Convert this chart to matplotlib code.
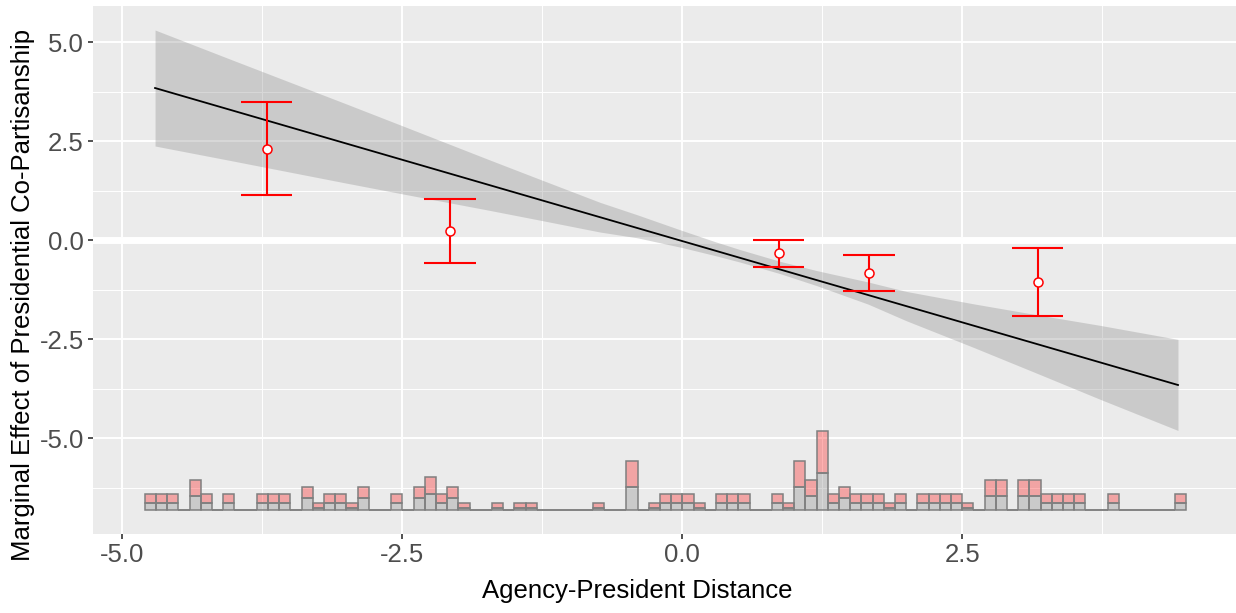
import matplotlib.pyplot as plt
import numpy as np

plt.rcParams['font.family'] = ['Liberation Sans', 'DejaVu Sans']

# fitted linear marginal effect and its confidence band
line_x = [-4.708, 4.426]
line_y = [3.846, -3.654]

band_x = [-4.708, -4.04, -3.0, -2.5, -1.73, -1.25, -0.735, -0.4, 0.0, 0.3,
          0.515, 0.87, 1.2, 1.66, 2.0, 2.6, 3.2, 3.72, 4.426]
band_hi = [5.311, 4.578, 3.444, 2.893, 2.041, 1.517, 0.959, 0.642, 0.246, -0.041,
           -0.234, -0.529, -0.765, -1.053, -1.291, -1.604, -1.897, -2.143, -2.502]
band_lo = [2.381, 2.018, 1.444, 1.173, 0.761, 0.497, 0.209, 0.062, -0.184, -0.391,
           -0.550, -0.839, -1.145, -1.613, -2.031, -2.704, -3.397, -4.003, -4.802]

# binned estimates
bin_x = [-3.711, -2.074, 0.863, 1.667, 3.173]
bin_est = [2.313, 0.235, -0.328, -0.833, -1.061]
bin_lo = [1.144, -0.573, -0.674, -1.288, -1.912]
bin_hi = [3.485, 1.05, 0.008, -0.371, -0.202]

# histogram of the moderator (bins of width 0.1 from -4.8 to 4.5)
hist_start = -4.8
hist_width = 0.1
count_control = [3, 3, 3, 0, 6, 3, 0, 3, 0, 0,
                 3, 3, 3, 0, 5, 1, 3, 3, 1, 5,
                 0, 0, 3, 0, 5, 7, 3, 5, 1, 0,
                 0, 1, 0, 1, 1, 0, 0, 0, 0, 0,
                 1, 0, 0, 10, 0, 1, 3, 3, 3, 1,
                 0, 3, 3, 3, 0, 0, 3, 1, 10, 6,
                 16, 3, 5, 3, 3, 3, 1, 3, 0, 3,
                 3, 3, 3, 1, 0, 6, 6, 0, 6, 6,
                 3, 3, 3, 3, 0, 0, 3, 0, 0, 0,
                 0, 0, 3]
count_treated = [4, 4, 4, 0, 7, 4, 0, 4, 0, 0,
                 4, 4, 4, 0, 5, 2, 4, 4, 2, 5,
                 0, 0, 4, 0, 5, 7, 4, 5, 2, 0,
                 0, 2, 0, 2, 2, 0, 0, 0, 0, 0,
                 2, 0, 0, 11, 0, 2, 4, 4, 4, 2,
                 0, 4, 4, 4, 0, 0, 4, 2, 11, 7,
                 18, 4, 5, 4, 4, 4, 2, 4, 0, 4,
                 4, 4, 4, 2, 0, 7, 7, 0, 7, 7,
                 4, 4, 4, 4, 0, 0, 4, 0, 0, 0,
                 0, 0, 4]
hist_base = -6.811
hist_scale = 0.0589

x_ticks = [-5.0, -2.5, 0.0, 2.5]
y_ticks = [-5.0, -2.5, 0.0, 2.5, 5.0]

fig = plt.figure(figsize=(12.36, 6.13), dpi=100)
ax = fig.add_axes([93 / 1236, 79 / 613, 1143 / 1236, 528 / 613])
ax.set_facecolor('#EBEBEB')
for s in ax.spines.values():
    s.set_visible(False)

ax.set_xlim(-5.262, 4.944)
ax.set_ylim(-7.417, 5.917)
ax.set_xticks(x_ticks)
ax.set_yticks(y_ticks)
ax.set_xticks([-3.75, -1.25, 1.25, 3.75], minor=True)
ax.set_yticks([-6.25, -3.75, -1.25, 1.25, 3.75], minor=True)
ax.set_xticklabels(['{:.1f}'.format(t) for t in x_ticks])
ax.set_yticklabels(['{:.1f}'.format(t) for t in y_ticks])
ax.grid(which='major', color='white', linewidth=1.4)
ax.grid(which='minor', color='white', linewidth=0.7)
ax.set_axisbelow(True)
ax.tick_params(which='major', length=3.5, width=1.2, color='#333333',
               labelsize=18.5, labelcolor='#4D4D4D', pad=3)
ax.tick_params(which='minor', length=0)

ax.axhline(0, color='white', linewidth=5, zorder=1)

ax.fill_between(band_x, band_lo, band_hi, color='#808080', alpha=0.3,
                linewidth=0, zorder=2)
ax.plot(line_x, line_y, color='black', linewidth=1.3, zorder=3)

# histogram
edges = hist_start + hist_width * np.arange(len(count_control))
g = np.array(count_control) * hist_scale
p = np.array(count_treated) * hist_scale
ax.bar(edges, g, width=hist_width, bottom=hist_base, align='edge',
       color='#808080', alpha=0.3, zorder=4, linewidth=0)
ax.bar(edges, p, width=hist_width, bottom=hist_base + g, align='edge',
       color='red', alpha=0.3, zorder=4, linewidth=0)
ax.bar(edges, g, width=hist_width, bottom=hist_base, align='edge',
       fill=False, edgecolor='#7f7f7f', linewidth=1.1, zorder=5)
ax.bar(edges, p, width=hist_width, bottom=hist_base + g, align='edge',
       fill=False, edgecolor='#7f7f7f', linewidth=1.1, zorder=5)

# binned estimates with error bars
cap = 0.228
ax.vlines(bin_x, bin_lo, bin_hi, color='red', linewidth=1.5, zorder=6)
ax.hlines(bin_lo, np.array(bin_x) - cap, np.array(bin_x) + cap, color='red',
          linewidth=1.5, zorder=6)
ax.hlines(bin_hi, np.array(bin_x) - cap, np.array(bin_x) + cap, color='red',
          linewidth=1.5, zorder=6)
ax.plot(bin_x, bin_est, 'o', markersize=6.5, markerfacecolor='white',
        markeredgecolor='red', markeredgewidth=1.1, zorder=7)

ax.set_xlabel('Agency-President Distance', fontsize=18.5, color='black')
ax.set_ylabel('Marginal Effect of Presidential Co-Partisanship', fontsize=18.5,
              color='black')
ax.xaxis.set_label_coords(0.476, -0.085)
ax.yaxis.set_label_coords(-0.0507, 0.4527)

fig.savefig('out.png', dpi=100)
